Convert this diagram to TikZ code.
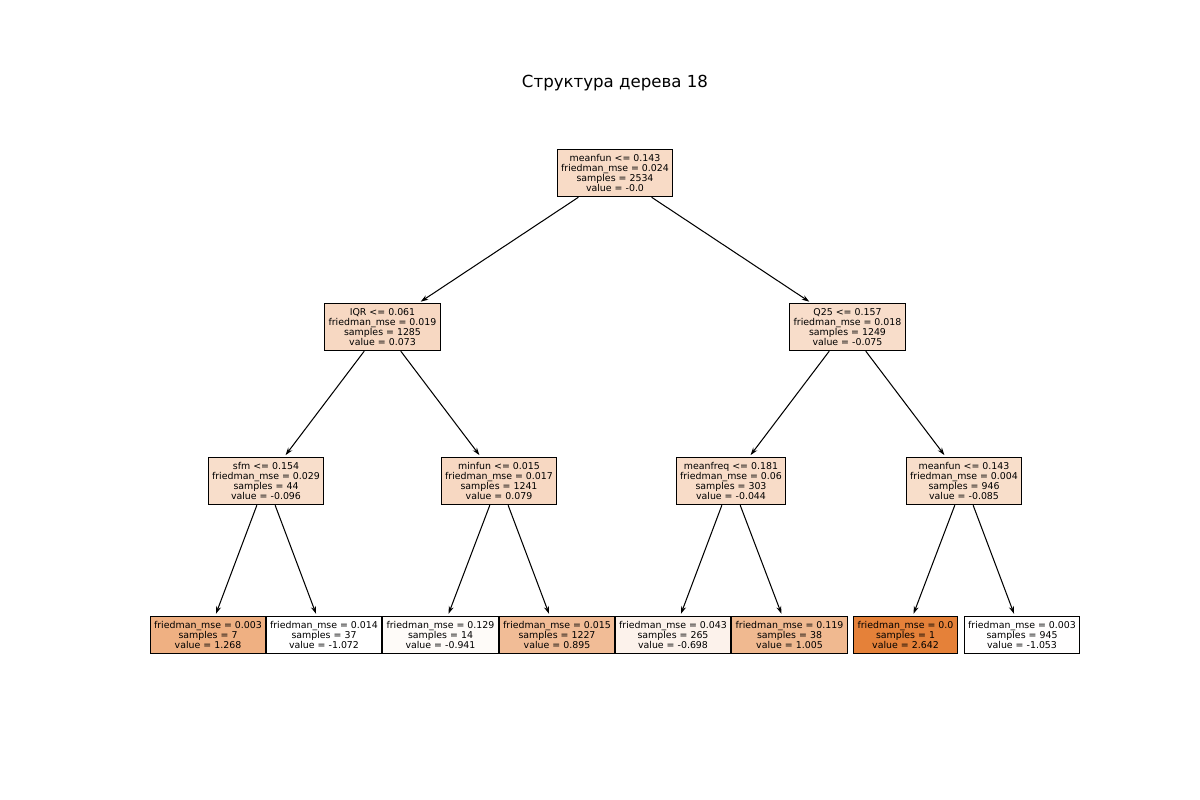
\documentclass[tikz,border=0pt]{standalone}
\usepackage{fontspec}
\setmainfont{DejaVu Sans}
\usetikzlibrary{arrows.meta}

% node fill colours (value scale from white to orange)
\definecolor{cRoot}{RGB}{248,219,198}
\definecolor{cIQR}{RGB}{247,216,194}
\definecolor{cQtf}{RGB}{248,221,202}
\definecolor{cSfm}{RGB}{248,222,203}
\definecolor{cMinf}{RGB}{247,216,194}
\definecolor{cMfreq}{RGB}{248,220,200}
\definecolor{cMfun}{RGB}{248,222,202}
\definecolor{cLa}{RGB}{239,176,130}
\definecolor{cLb}{RGB}{255,255,255}
\definecolor{cLc}{RGB}{254,251,248}
\definecolor{cLd}{RGB}{241,188,150}
\definecolor{cLe}{RGB}{252,242,235}
\definecolor{cLf}{RGB}{240,185,144}
\definecolor{cLg}{RGB}{229,129,57}
\definecolor{cLh}{RGB}{255,254,254}

\tikzset{
  treenode/.style={draw=black, line width=0.75pt, rectangle, align=center,
    inner xsep=2.8pt, inner ysep=3.7pt,
    font=\fontsize{6.8}{7.2}\selectfont},
  edge/.style={draw=black, line width=0.75pt,
    -{Stealth[length=5.5pt,width=3.6pt]}, shorten >=1.5pt}
}

\begin{document}
\begin{tikzpicture}[x=0.01in, y=-0.01in]
\useasboundingbox (0,0) rectangle (1200,800);

\node[font=\fontsize{12}{14}\selectfont] (title) at (615,83) {Структура дерева 18};

% internal nodes
\node[treenode, fill=cRoot] (n0) at (615,173) {meanfun <= 0.143\\friedman\_mse = 0.024\\samples = 2534\\value = -0.0};
\node[treenode, fill=cIQR] (n1) at (382.5,327) {IQR <= 0.061\\friedman\_mse = 0.019\\samples = 1285\\value = 0.073};
\node[treenode, fill=cQtf] (n2) at (847.5,327) {Q25 <= 0.157\\friedman\_mse = 0.018\\samples = 1249\\value = -0.075};
\node[treenode, fill=cSfm] (n3) at (266,481) {sfm <= 0.154\\friedman\_mse = 0.029\\samples = 44\\value = -0.096};
\node[treenode, fill=cMinf] (n4) at (499,481) {minfun <= 0.015\\friedman\_mse = 0.017\\samples = 1241\\value = 0.079};
\node[treenode, fill=cMfreq] (n5) at (731,481) {meanfreq <= 0.181\\friedman\_mse = 0.06\\samples = 303\\value = -0.044};
\node[treenode, fill=cMfun] (n6) at (964,481) {meanfun <= 0.143\\friedman\_mse = 0.004\\samples = 946\\value = -0.085};

% leaves
\node[treenode, fill=cLa] (l1) at (208,635) {friedman\_mse = 0.003\\samples = 7\\value = 1.268};
\node[treenode, fill=cLb] (l2) at (324,635) {friedman\_mse = 0.014\\samples = 37\\value = -1.072};
\node[treenode, fill=cLc] (l3) at (440.5,635) {friedman\_mse = 0.129\\samples = 14\\value = -0.941};
\node[treenode, fill=cLd] (l4) at (557,635) {friedman\_mse = 0.015\\samples = 1227\\value = 0.895};
\node[treenode, fill=cLe] (l5) at (673,635) {friedman\_mse = 0.043\\samples = 265\\value = -0.698};
\node[treenode, fill=cLf] (l6) at (789.5,635) {friedman\_mse = 0.119\\samples = 38\\value = 1.005};
\node[treenode, fill=cLg] (l7) at (905.5,635) {friedman\_mse = 0.0\\samples = 1\\value = 2.642};
\node[treenode, fill=cLh] (l8) at (1022,635) {friedman\_mse = 0.003\\samples = 945\\value = -1.053};

% connectors
\draw[edge] (n0) -- (n1);
\draw[edge] (n0) -- (n2);
\draw[edge] (n1) -- (n3);
\draw[edge] (n1) -- (n4);
\draw[edge] (n2) -- (n5);
\draw[edge] (n2) -- (n6);
\draw[edge] (n3) -- (l1);
\draw[edge] (n3) -- (l2);
\draw[edge] (n4) -- (l3);
\draw[edge] (n4) -- (l4);
\draw[edge] (n5) -- (l5);
\draw[edge] (n5) -- (l6);
\draw[edge] (n6) -- (l7);
\draw[edge] (n6) -- (l8);
\end{tikzpicture}
\end{document}
